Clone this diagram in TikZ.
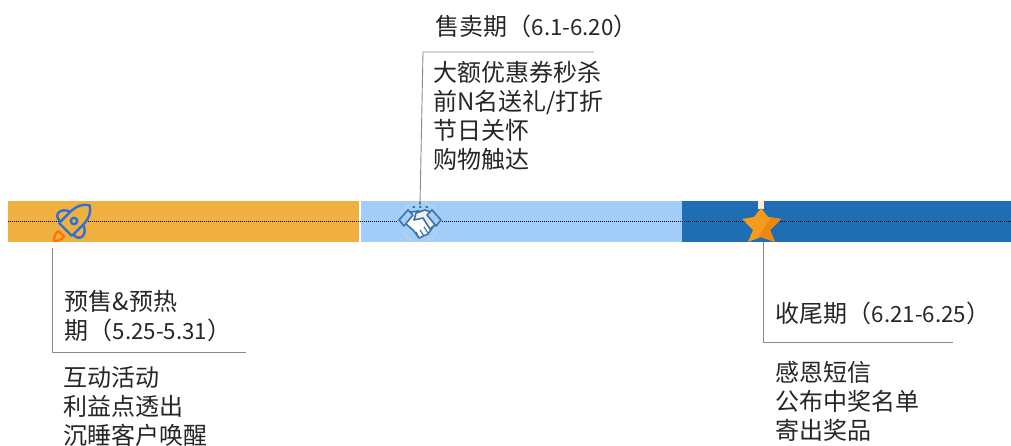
\documentclass[tikz,border=0pt]{standalone}
\usepackage{fontspec}
\setmainfont{Noto Sans CJK SC}
\usetikzlibrary{shapes.geometric}
\definecolor{barorange}{HTML}{F0B03F}
\definecolor{barlight}{HTML}{A3CEFA}
\definecolor{bardark}{HTML}{1F6EB4}
\definecolor{linegrey}{HTML}{8A8A8A}
\definecolor{rocketblue}{HTML}{2F6FDC}
\definecolor{shakeblue}{HTML}{3E72A8}
\definecolor{starmain}{HTML}{F89B1C}
\definecolor{stardark}{HTML}{EC8710}
\definecolor{arcgrey}{HTML}{BFD0E2}
\newcommand{\lnum}[1]{{\fontsize{22.3}{29}\selectfont #1}}
\tikzset{
  x=1pt,y=-1pt,
  barseg/.style={draw=none,inner sep=0pt,minimum height=41pt,anchor=north west},
  leader/.style={draw=linegrey,line width=0.9pt},
  label/.style={anchor=west,align=left,inner sep=0pt,font=\fontsize{24}{29}\selectfont,text=black!85},
  rocketline/.style={draw=rocketblue,line width=2.4pt,line join=round,line cap=round},
  shakeline/.style={draw=shakeblue,line width=1.6pt,line join=round,line cap=round},
}
\begin{document}
\begin{tikzpicture}
\useasboundingbox (0,0) rectangle (1011,446);
% bars
\node[barseg,fill=barorange,minimum width=351pt] (b1) at (8,201) {};
\node[barseg,fill=barlight,minimum width=321pt] (b2) at (360.5,201) {};
\node[barseg,fill=bardark,minimum width=330pt] (b3) at (681.5,201) {};
\draw[black,line width=1pt,dash pattern=on 1pt off 1pt] (b1.west) -- (b3.east);
% rocket
\begin{scope}[shift={(74,221)},rotate=45]
  \draw[rocketline,fill=barorange] (-10,-9) .. controls (-11,-19) and (0,-20) .. (4,-9) -- cycle;
  \draw[rocketline,fill=barorange] (-10,9) .. controls (-11,19) and (0,20) .. (4,9) -- cycle;
  \draw[rocketline,fill=barorange] (-12,-9) -- (6,-9) .. controls (12,-9) and (20,-5) .. (22,0) .. controls (20,5) and (12,9) .. (6,9) -- (-12,9) -- cycle;
  \draw[rocketline] (0,0) circle (3.2);
  \draw[draw=orange!90!red,line width=2.2pt,fill=barorange,line join=round] (-18,-4) -- (-18,4) .. controls (-23,5) and (-26,2) .. (-28,0) .. controls (-26,-2) and (-23,-5) .. (-18,-4);
\end{scope}
% handshake
\draw[arcgrey,line width=1.6pt] (420,222) ++(-140:20) arc (-140:-40:20);
\draw[arcgrey,line width=1.6pt] (420,222) ++(155:20) arc (155:105:20);
\draw[arcgrey,line width=1.6pt] (420,222) ++(75:20) arc (75:25:20);
\begin{scope}[shift={(420,221)}]
  \fill[barlight] (-22,-9) rectangle (22,12);
  \draw[shakeline,fill=white] (-14,-8) -- (-2,-10) -- (8,-7) -- (15,3) -- (8,13) -- (-1,17) -- (-7,9) -- (-14,3) -- cycle;
  \draw[shakeline,fill=white!88!gray] (-4,-8) -- (5,-11) -- (14,-8) -- (17,2) -- (10,8) -- (3,-3) -- (-6,-1) -- cycle;
  \draw[shakeline,fill=barlight] (-21,-1) -- (-12,-11) -- (-7,-6) -- (-16,5) -- cycle;
  \draw[shakeline,fill=barlight] (21,-1) -- (12,-11) -- (7,-6) -- (16,5) -- cycle;
  \draw[shakeline,line width=1.2pt] (-1,17) -- (-4,11) (4,15) -- (0,9) (8,12) -- (4,6);
  \draw[shakeline,line width=1.2pt,dash pattern=on 1.5pt off 5pt] (-7,-14) -- (8,-14);
  \draw[shakeline,line width=1.2pt] (0,-19) -- (0,-17);
\end{scope}
% star
\fill[white!85!orange] (758,201) rectangle (764,209);
\fill[starmain,line join=round] (761,208) -- (768,217) -- (781,219) -- (770,230) -- (775,242) -- (761,237) -- (748,242) -- (753,230) -- (742,219) -- (754,217) -- cycle;
\fill[stardark] (771,217.4) -- (781,219) -- (770,230) -- (775,242) -- (761,237) -- (757,238.5) -- cycle;
% anchors for leaders
\coordinate (la) at (52,248);
\coordinate (lb) at (52,352);
\coordinate (lc) at (246,352);
\coordinate (ma) at (420,205);
\coordinate (mb) at (423,52);
\coordinate (mc) at (594,52);
\coordinate (ra) at (763,242);
\coordinate (rb) at (763,342);
\coordinate (rc) at (953,342);
\draw[leader] (la) -- (lb) -- (lc);
\draw[leader] (ma) -- (mb) -- (mc);
\draw[leader] (ra) -- (rb) -- (rc);
% labels
\node[label] (t1) at (64.5,316) {预售\&预热\\期（\lnum{5.25-5.31}）};
\node[label] (d1) at (63.5,406) {互动活动\\利益点透出\\沉睡客户唤醒};
\node[label] (t2) at (435.5,26) {售卖期（\lnum{6.1-6.20}）};
\node[label] (d2) at (433,116) {大额优惠券秒杀\\前N名送礼/打折\\节日关怀\\购物触达};
\node[label] (t3) at (775.5,313) {收尾期（\lnum{6.21-6.25}）};
\node[label] (d3) at (775,401) {感恩短信\\公布中奖名单\\寄出奖品};
\end{tikzpicture}
\end{document}
